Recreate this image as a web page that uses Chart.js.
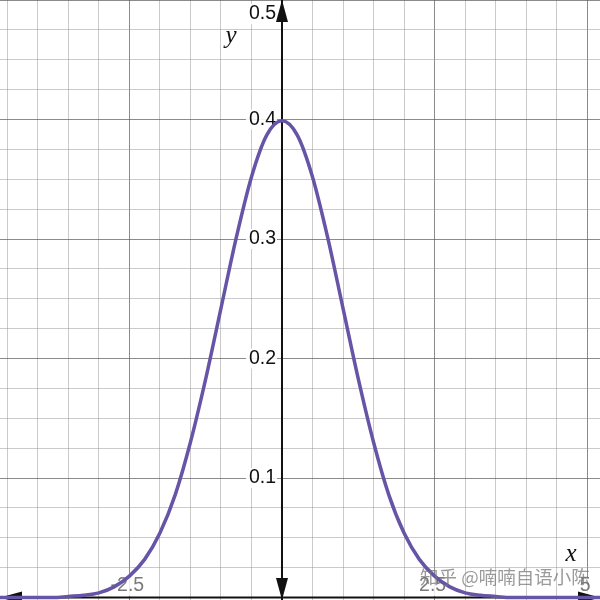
<!DOCTYPE html>
<html lang="zh">
<head>
  <meta charset="UTF-8" />
  <title>Normal curve</title>
  <script src="https://cdn.jsdelivr.net/npm/chart.js@4/dist/chart.umd.min.js"></script>
  <style>
    body { margin: 0; background: #fff; }
    #wrap { width: 600px; height: 600px; }
  </style>
</head>
<body>
  <div id="wrap"><canvas id="normal-graph" width="600" height="600"></canvas></div>

<script>
  // values
  const xValues = [-4.75, -4.5, -4.25, -4, -3.75, -3.5, -3.25, -3, -2.75, -2.5, -2.25, -2, -1.75, -1.5, -1.25, -1, -0.75, -0.5, -0.25,
    0, 0.25, 0.5, 0.75, 1, 1.25, 1.5, 1.75, 2, 2.25, 2.5, 2.75, 3, 3.25, 3.5, 3.75, 4, 4.25, 4.5, 4.75, 5, 5.25];
  const yValues = [0.000, 0.000, 0.000, 0.000, 0.000, 0.001, 0.002, 0.004, 0.009, 0.018, 0.032, 0.054, 0.086, 0.130, 0.183, 0.242, 0.301, 0.352, 0.387,
    0.399, 0.387, 0.352, 0.301, 0.242, 0.183, 0.130, 0.086, 0.054, 0.032, 0.018, 0.009, 0.004, 0.002, 0.001, 0.000, 0.000, 0.000, 0.000, 0.000, 0.000, 0.000];
  const yTickLabels = [0.1, 0.2, 0.3, 0.4, 0.5];
  const xTickLabels = [-2.5, 2.5, 5];

  const points = xValues.map((x, i) => ({ x: x, y: yValues[i] }));

  const nearMultiple = (v, step) => Math.abs(v / step - Math.round(v / step)) < 1e-6;

  // axes, arrows, tick labels under the curve; letters and watermark on top
  const axesPlugin = {
    id: 'axes',
    beforeDatasetsDraw(chart) {
      const ctx = chart.ctx;
      const xs = chart.scales.x, ys = chart.scales.y;
      const x0 = xs.getPixelForValue(0);
      const y0 = ys.getPixelForValue(0);
      ctx.save();
      ctx.font = '19.5px "Liberation Sans", Arial, sans-serif';
      ctx.textBaseline = 'middle';
      ctx.textAlign = 'right';
      yTickLabels.forEach(v => {
        let py = ys.getPixelForValue(v);
        if (py < 14) py = 14;
        const t = String(v);
        const w = ctx.measureText(t).width;
        ctx.fillStyle = 'rgba(255,255,255,0.9)';
        ctx.fillRect(x0 - 7 - w - 2, py - 10, w + 4, 20);
        ctx.fillStyle = '#111';
        ctx.fillText(t, x0 - 6, py);
      });
      ctx.textAlign = 'center';
      xTickLabels.forEach(v => {
        const px = xs.getPixelForValue(v) - 2;
        const t = String(v);
        const w = ctx.measureText(t).width;
        ctx.fillStyle = 'rgba(255,255,255,0.85)';
        ctx.fillRect(px - w / 2 - 2, 577, w + 4, 19);
        ctx.fillStyle = '#7a7a7a';
        ctx.fillText(t, px, 586);
      });

      ctx.strokeStyle = '#111';
      ctx.fillStyle = '#111';
      ctx.lineWidth = 2;
      ctx.beginPath();
      ctx.moveTo(x0, 0); ctx.lineTo(x0, 600);
      ctx.moveTo(0, y0); ctx.lineTo(600, y0);
      ctx.stroke();
      // arrow heads
      const tri = (a, b, c) => { ctx.beginPath(); ctx.moveTo(a[0], a[1]); ctx.lineTo(b[0], b[1]); ctx.lineTo(c[0], c[1]); ctx.closePath(); ctx.fill(); };
      tri([x0, 0], [x0 - 6, 22], [x0 + 6, 22]);
      tri([x0, 600], [x0 - 6, 578], [x0 + 6, 578]);
      tri([0, y0], [22, y0 - 6], [22, y0 + 6]);
      tri([600, y0], [578, y0 - 6], [578, y0 + 6]);
      ctx.restore();
    },
    afterDatasetsDraw(chart) {
      const ctx = chart.ctx;
      const x0 = chart.scales.x.getPixelForValue(0);
      ctx.save();
      ctx.textBaseline = 'middle';
      ctx.textAlign = 'center';
      // axis letters
      ctx.fillStyle = '#111';
      ctx.font = 'italic 25px "Liberation Serif", "DejaVu Serif", serif';
      ctx.fillText('y', x0 - 51, 36);
      ctx.fillText('x', 571, 554);
      // watermark
      ctx.font = '18.5px "Noto Sans CJK SC", sans-serif';
      ctx.textAlign = 'left';
      ctx.fillStyle = 'rgba(120,120,120,0.75)';
      ctx.fillText('知乎 @喃喃自语小陈', 420, 577);
      ctx.restore();
    }
  };

  const normalChart = new Chart(
    document.getElementById('normal-graph').getContext('2d'), {
      type: 'line',
      data: {
        datasets: [{
          label: 'y',
          data: points,
          borderColor: 'rgb(102, 84, 166)',
          borderWidth: 3.5,
          pointRadius: 0,
          fill: false,
          cubicInterpolationMode: 'monotone'
        }]
      },
      options: {
        responsive: false,
        animation: false,
        layout: { padding: 0 },
        plugins: {
          legend: { display: false },
          tooltip: { enabled: false }
        },
        scales: {
          x: {
            type: 'linear',
            min: -4.62,
            max: 5.21,
            afterBuildTicks: (scale) => {
              const t = [];
              for (let v = -4.5; v <= 5.0001; v += 0.5) t.push({ value: Math.round(v * 10) / 10 });
              scale.ticks = t;
            },
            ticks: { display: false },
            border: { display: false },
            grid: {
              drawTicks: false,
              lineWidth: 1,
              color: (c) => nearMultiple(c.tick.value, 2.5) ? 'rgba(90,90,90,0.7)' : 'rgba(150,150,150,0.5)'
            }
          },
          y: {
            type: 'linear',
            min: -0.002,
            max: 0.5,
            afterBuildTicks: (scale) => {
              const t = [];
              for (let i = 1; i <= 20; i++) t.push({ value: Math.round(i * 25) / 1000 });
              scale.ticks = t;
            },
            ticks: { display: false },
            border: { display: false },
            grid: {
              drawTicks: false,
              lineWidth: 1,
              color: (c) => nearMultiple(c.tick.value, 0.1) ? 'rgba(90,90,90,0.7)' : 'rgba(150,150,150,0.5)'
            }
          }
        }
      },
      plugins: [axesPlugin]
    });
</script>
</body>
</html>
